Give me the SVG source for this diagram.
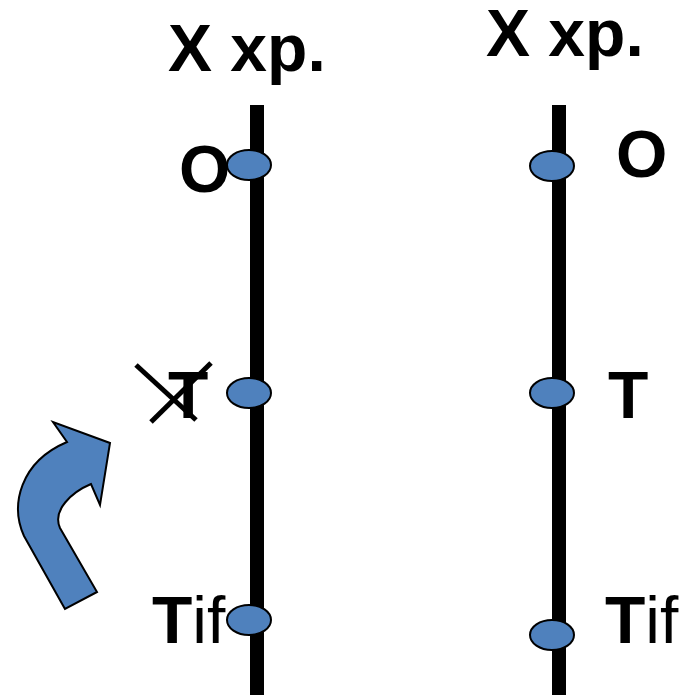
<svg xmlns="http://www.w3.org/2000/svg" width="685" height="695" viewBox="0 0 685 695">
<style>
.t{font-family:"Liberation Sans",Arial,sans-serif;font-weight:bold;fill:#000}
.r{font-weight:normal}
.dot{fill:#4F81BD;stroke:#000;stroke-width:2}
.axis{stroke:#000;stroke-width:14}
.x{stroke:#000;stroke-width:5}
</style>
<rect width="685" height="695" fill="#fff"/>
<g id="left-axis">
<line class="axis" x1="257" y1="105" x2="257" y2="695"/>
<text class="t" x="168" y="71" font-size="66">X xp.</text>
</g>
<g id="right-axis">
<line class="axis" x1="559" y1="105" x2="559" y2="695"/>
<text class="t" x="486" y="56" font-size="66">X xp.</text>
</g>
<g id="left-O"><ellipse class="dot" cx="249" cy="165" rx="22" ry="15"/><text class="t" x="179" y="192" font-size="66">O</text></g>
<g id="left-T">
<ellipse class="dot" cx="249" cy="393" rx="22" ry="15"/>
<text class="t" x="168" y="418" font-size="66">T</text>
<line class="x" x1="136" y1="365" x2="196" y2="420"/>
<line class="x" x1="211" y1="363" x2="151" y2="422"/>
</g>
<g id="left-Tif"><text class="t" x="152" y="643" font-size="66">T<tspan class="r">if</tspan></text><ellipse class="dot" cx="249" cy="620" rx="22" ry="15"/></g>
<g id="right-O"><ellipse class="dot" cx="552" cy="166" rx="22" ry="15"/><text class="t" x="616" y="177" font-size="66">O</text></g>
<g id="right-T"><ellipse class="dot" cx="552" cy="393" rx="22" ry="15"/><text class="t" x="608" y="418" font-size="66">T</text></g>
<g id="right-Tif"><ellipse class="dot" cx="552" cy="635" rx="22" ry="15"/><text class="t" x="605" y="643" font-size="66">T<tspan class="r">if</tspan></text></g>
<g id="curved-arrow">
<path class="dot" d="M65 609 L24 536 C10 505 20 462 67 442 L53 422 L110 443 L100 505 L91 484 C72 492 52 510 60 528 L97 592 Z"/>
</g>
</svg>
